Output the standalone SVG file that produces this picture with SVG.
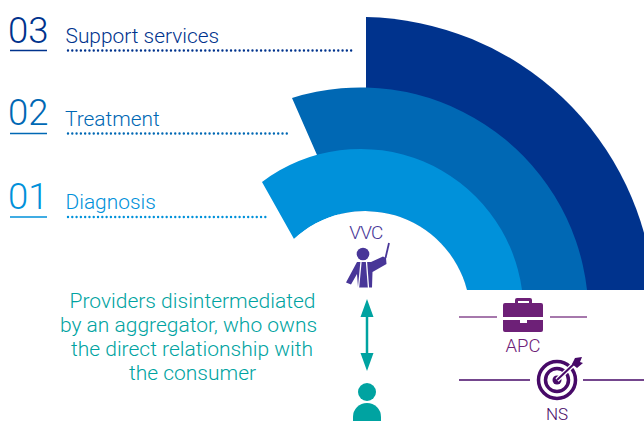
<svg xmlns="http://www.w3.org/2000/svg" width="644" height="421" viewBox="0 0 644 421">
<style>
text{font-family:Roboto,"Liberation Sans",sans-serif;font-weight:300}
.num{font-size:36.5px}
.lab{font-size:20.9px}
.dot{fill:none;stroke-width:2.4;stroke-linecap:round;stroke-dasharray:0 4.29}
.ul{stroke-width:1.6;fill:none}
.c{font-size:21px;fill:#00a3a1;text-anchor:middle}
</style>
<defs><clipPath id="pg"><rect width="644" height="421"/></clipPath></defs>
<rect width="644" height="421" fill="#fff"/>
<g id="band-03"><path d="M366 17A295 295 0 0 1 654 290H366Z" fill="#00338d" clip-path="url(#pg)"/></g>
<g id="band-02"><path d="M292 98A228 228 0 0 1 587 290H366L317 155Z" fill="#0068b4"/></g>
<g id="band-01"><path d="M262 182A163 163 0 0 1 522 290H467A105 105 0 0 0 294 239Z" fill="#0091da"/></g>
<path d="M294 239A105 105 0 0 1 467 290V300H330Z" fill="#fff"/>
<g id="label-03"><text class="num" x="8" y="43" fill="#00338d">03</text><path class="ul" d="M10 50.5H47" stroke="#00338d"/><text class="lab" x="65.5" y="43" fill="#00338d">Support services</text><path class="dot" d="M68 50.5H352" stroke="#00338d"/></g>
<g id="label-02"><text class="num" x="8" y="125" fill="#0068b4">02</text><path class="ul" d="M10 133.5H47" stroke="#0068b4"/><text class="lab" x="65" y="126" fill="#0068b4">Treatment</text><path class="dot" d="M68 133.5H287" stroke="#0068b4"/></g>
<g id="label-01"><text class="num" x="8" y="209" fill="#0091da">01</text><path class="ul" d="M10 217H47" stroke="#0091da"/><text class="lab" x="65.5" y="209" fill="#0091da">Diagnosis</text><path class="dot" d="M68 217H267" stroke="#0091da"/></g>
<g id="caption"><text class="c" x="192.5" y="308">Providers disintermediated</text><text class="c" x="188.5" y="332">by an aggregator, who owns</text><text class="c" x="192" y="356">the direct relationship with</text><text class="c" x="192.5" y="380">the consumer</text></g>
<g id="vvc" fill="#483698"><text x="366" y="239" font-size="19" text-anchor="middle" letter-spacing="-.8">VVC</text><circle cx="363" cy="254" r="6.3"/><path d="M357 262H371L383 256.500L386 258L386.500 264L372.500 272L372 287.500H358L357 274L351 284.500L346 282.500Z"/><path d="M361 262L358.500 288M366.500 262L368.500 288" stroke="#fff" stroke-width="1.3" fill="none"/><path d="M385.500 258L389 243" stroke="#483698" stroke-width="1.8" fill="none"/></g>
<g id="connectors"><path d="M367 315V355" stroke="#00a3a1" stroke-width="2.5"/><path d="M367 299L373.500 317H360.500ZM367 371L360.500 353H373.500Z" fill="#00a3a1"/></g>
<g id="consumer" fill="#00a3a1"><circle cx="367" cy="392" r="9"/><path d="M353 421V417A14 14 0 0 1 381 417V421Z"/></g>
<g id="apc"><path d="M459 317H497M550 317H587" stroke="#6d2077" stroke-width="1.4" opacity=".8"/><path fill-rule="evenodd" d="M515 303V300Q515 298 517 298H530Q532 298 532 300V303H541Q543 303 543 305V317H503V305Q503 303 505 303ZM518 303H529V301H518Z" fill="#6d2077"/><path d="M503 320H520V323H527V320H543V330Q543 332 541 332H505Q503 332 503 330Z" fill="#6d2077"/><text x="523" y="352" font-size="18.500" text-anchor="middle" fill="#6d2077">APC</text></g>
<g id="ns"><path d="M459 380H530M583 380H644" stroke="#470a68" stroke-width="1.4"/><g fill="none" stroke="#470a68" stroke-width="3.500"><circle cx="557" cy="380" r="18.500"/><circle cx="557" cy="380" r="11.500"/></g><circle cx="557" cy="380" r="4.500" fill="#470a68"/><path d="M557 380L576 362" stroke="#fff" stroke-width="4.500"/><path d="M557 380L576 362" stroke="#470a68" stroke-width="2"/><path d="M572 364L575 358L582 357L580 362L583 363L577 368Z" fill="#470a68"/><text x="557" y="420" font-size="17" text-anchor="middle" fill="#470a68">NS</text></g>
</svg>
